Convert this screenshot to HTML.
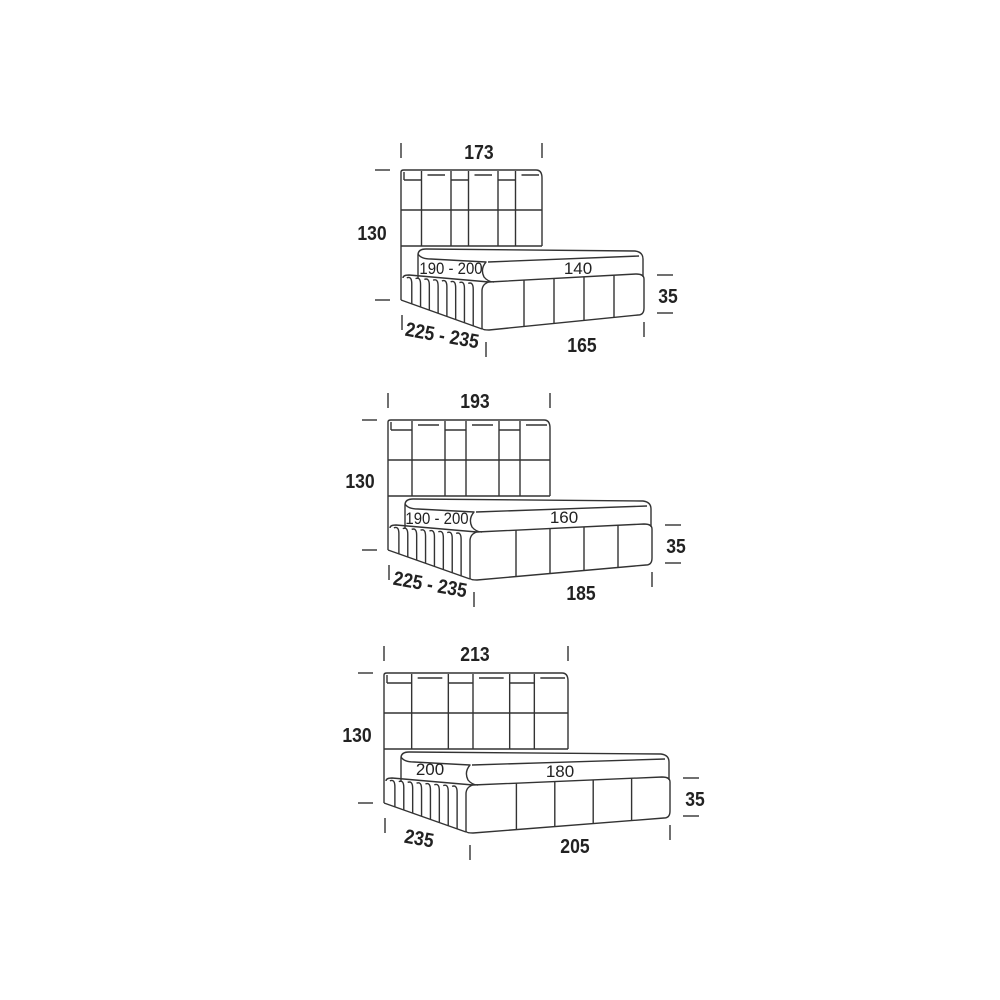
<!DOCTYPE html>
<html><head><meta charset="utf-8"><style>
html,body{margin:0;padding:0;background:#fff;width:1000px;height:1000px;overflow:hidden}
svg text{font-family:"Liberation Sans",Arial,sans-serif;fill:#222}
.b{font-weight:bold;font-size:20px}
.n{font-size:17px}
</style></head><body>
<svg id="s" width="1000" height="1000" viewBox="0 0 1000 1000" xmlns="http://www.w3.org/2000/svg">
<g id="g" fill="none" stroke="#333" stroke-width="1.4" stroke-linejoin="round"></g>
<!-- bed 1 -->
<text class="b" x="479" y="159" text-anchor="middle" transform="translate(479,0) scale(.88,1) translate(-479,0)">173</text>
<text class="b" x="372" y="240" text-anchor="middle" transform="translate(372,0) scale(.88,1) translate(-372,0)">130</text>
<text class="b" x="668" y="303" text-anchor="middle" transform="translate(668,0) scale(.88,1) translate(-668,0)">35</text>
<text class="b" x="582" y="352" text-anchor="middle" transform="translate(582,0) scale(.88,1) translate(-582,0)">165</text>
<text class="b" x="0" y="0" text-anchor="middle" transform="translate(441,342) rotate(10) scale(.88,1)">225 - 235</text>
<text class="n" x="451" y="274" text-anchor="middle" transform="translate(451,0) scale(.88,1) translate(-451,0)">190 - 200</text>
<text class="n" x="578" y="274" text-anchor="middle">140</text>
<!-- bed 2 -->
<text class="b" x="475" y="408" text-anchor="middle" transform="translate(475,0) scale(.88,1) translate(-475,0)">193</text>
<text class="b" x="360" y="488" text-anchor="middle" transform="translate(360,0) scale(.88,1) translate(-360,0)">130</text>
<text class="b" x="676" y="553" text-anchor="middle" transform="translate(676,0) scale(.88,1) translate(-676,0)">35</text>
<text class="b" x="581" y="600" text-anchor="middle" transform="translate(581,0) scale(.88,1) translate(-581,0)">185</text>
<text class="b" x="0" y="0" text-anchor="middle" transform="translate(429,591) rotate(10) scale(.88,1)">225 - 235</text>
<text class="n" x="437" y="524" text-anchor="middle" transform="translate(437,0) scale(.88,1) translate(-437,0)">190 - 200</text>
<text class="n" x="564" y="523" text-anchor="middle">160</text>
<!-- bed 3 -->
<text class="b" x="475" y="661" text-anchor="middle" transform="translate(475,0) scale(.88,1) translate(-475,0)">213</text>
<text class="b" x="357" y="742" text-anchor="middle" transform="translate(357,0) scale(.88,1) translate(-357,0)">130</text>
<text class="b" x="695" y="806" text-anchor="middle" transform="translate(695,0) scale(.88,1) translate(-695,0)">35</text>
<text class="b" x="575" y="853" text-anchor="middle" transform="translate(575,0) scale(.88,1) translate(-575,0)">205</text>
<text class="b" x="0" y="0" text-anchor="middle" transform="translate(418,845) rotate(10) scale(.88,1)">235</text>
<text class="n" x="430" y="775" text-anchor="middle">200</text>
<text class="n" x="560" y="777" text-anchor="middle">180</text>
</svg>
<script>
var g=document.getElementById('g'),h='';
function L(a,b,c,d){h+='<line x1="'+a+'" y1="'+b+'" x2="'+c+'" y2="'+d+'"/>';}
function P(d){h+='<path d="'+d+'"/>';}
function bed(x,y,W,fc){
 var R=x+W;
 P('M'+x+' '+(y+130)+'V'+(y+2)+'Q'+x+' '+y+' '+(x+3)+' '+y+'H'+(R-6)+'Q'+R+' '+y+' '+R+' '+(y+8)+'V'+(y+76));
 L(x,y+76,R,y+76);L(x,y+40,R,y+40);
 var n=6;for(var i=1;i<n;i++){var cx=x+W*i/n+(i%2?-3:3);L(cx,y+1,cx,y+76);}
 for(var i=0;i<n;i++){var a=x+W*i/n+(i?3:3),b=x+W*(i+1)/n-3;if(i%2==0)L(a,y+10,b,y+10);else L(a,y+5,b,y+5);}
 L(x+3,y+2,x+3,y+10);
 var mr=x+W+101, mt=y+79;
 P('M'+(x+17)+' '+(mt+30)+'V'+(mt+6)+'Q'+(x+17)+' '+mt+' '+(x+25)+' '+mt+'L'+(mr-8)+' '+(mt+2)+'Q'+mr+' '+(mt+3)+' '+mr+' '+(mt+10)+'V'+(mt+28));
 P('M'+(x+17)+' '+(mt+5)+'Q'+(x+20)+' '+(mt+10)+' '+(x+30)+' '+(mt+10)+'L'+(fc-8)+' '+(mt+13)+'Q'+(fc-14)+' '+(mt+20)+' '+(fc-10)+' '+(mt+28)+'Q'+(fc-6)+' '+(mt+33)+' '+fc+' '+(mt+33));
 L(fc-6,mt+13,mr-4,mt+7);
 var bt=y+105, bb=y+160, br=mr+1;
 P('M'+(x+2)+' '+(bt+3)+'Q'+(x+2)+' '+bt+' '+(x+8)+' '+bt+'L'+(fc-5)+' '+(bt+7)+'Q'+(fc-12)+' '+(bt+9)+' '+(fc-12)+' '+(bt+16)+'V'+(bb-2)+'Q'+(fc-12)+' '+bb+' '+(fc-5)+' '+bb+'L'+(br-6)+' '+(bb-15)+'Q'+br+' '+(bb-15)+' '+br+' '+(bb-22)+'V'+(bt+4)+'Q'+br+' '+(bt-1)+' '+(br-8)+' '+(bt-1)+'L'+(fc-5)+' '+(bt+7));
 L(x,bt+25,fc-12,bb-1);
 for(var i=1;i<9;i++){var sx=x+2+(fc-x-14)*i/9;var sy=bt+i*0.8;P('M'+(sx-5)+' '+(sy+2)+'Q'+sx+' '+sy+' '+sx+' '+(sy+8)+'V'+(bt+25+(bb-bt-26)*(sx-x)/(fc-x-12)));}
 for(var i=1;i<5;i++){var fx=fc+(br-fc)*i/5;var t=(fx-fc)/(br-fc);L(fx,bt+7-8*t,fx,bb-15*t);}
 L(x,y-27,x,y-12);L(R,y-27,R,y-12);
 L(x-26,y,x-11,y);L(x-26,y+130,x-11,y+130);
 L(br+13,bt,br+29,bt);L(br+13,bb-17,br+29,bb-17);
 L(x+1,bb-15,x+1,bb);L(fc-8,bb+12,fc-8,bb+27);L(br,bb-8,br,bb+7);
}
bed(401,170,141,494);
bed(388,420,162,482);
bed(384,673,184,478);
g.innerHTML=h;
</script>
</body></html>
